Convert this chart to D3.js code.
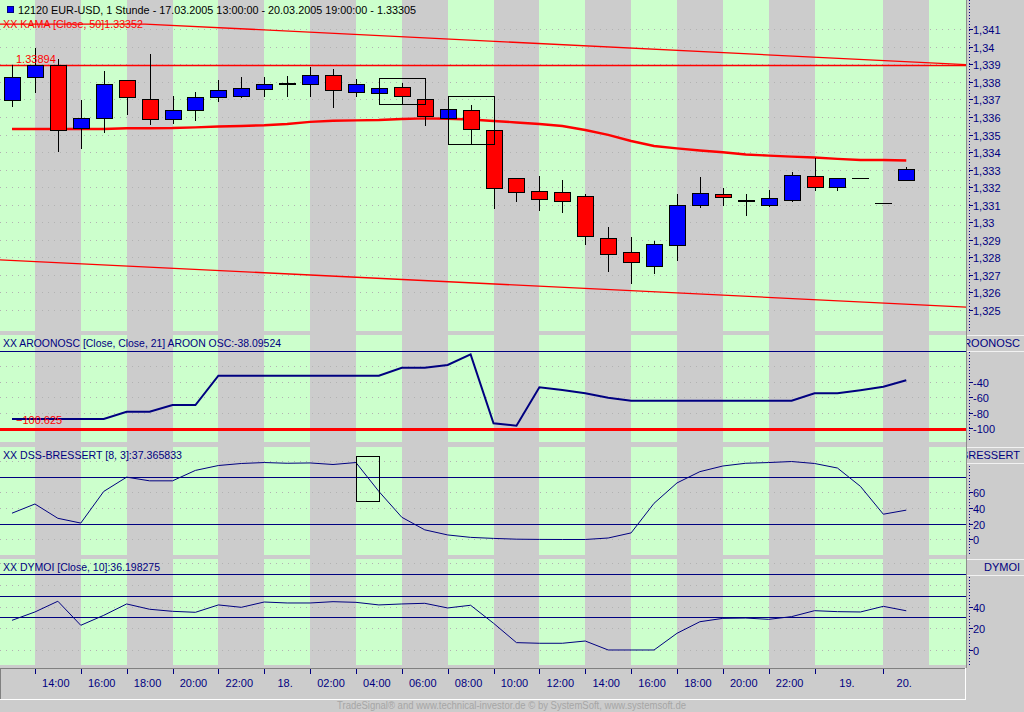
<!DOCTYPE html>
<html>
<head>
<meta charset="utf-8">
<script src="https://cdn.jsdelivr.net/npm/d3@7"></script>
<style>
  body { margin: 0; background: #cccccc; overflow: hidden; }
  text { font-family: "Liberation Sans", Arial, sans-serif; }
</style>
</head>
<body>
<div id="chart"></div>
<script>
// ---- data ----
const barTimes = [
  "17.03 13:00", "17.03 14:00", "17.03 15:00", "17.03 16:00", "17.03 17:00", "17.03 18:00",
  "17.03 19:00", "17.03 20:00", "17.03 21:00", "17.03 22:00", "17.03 23:00",
  "18.03 00:00", "18.03 01:00", "18.03 02:00", "18.03 03:00", "18.03 04:00", "18.03 05:00",
  "18.03 06:00", "18.03 07:00", "18.03 08:00", "18.03 09:00", "18.03 10:00", "18.03 11:00",
  "18.03 12:00", "18.03 13:00", "18.03 14:00", "18.03 15:00", "18.03 16:00", "18.03 17:00",
  "18.03 18:00", "18.03 19:00", "18.03 20:00", "18.03 21:00", "18.03 22:00", "18.03 23:00",
  "19.03 00:00", "19.03 01:00", "19.03 02:00", "20.03 18:00", "20.03 19:00"
];

const opens = [
  1.33695, 1.33826, 1.33895, 1.33537, 1.33596, 1.33809, 1.33701, 1.33587, 1.33638, 1.33712,
  1.33718, 1.33761, 1.33790, 1.33787, 1.33840, 1.33744, 1.33735, 1.33771, 1.33701, 1.33596,
  1.33638, 1.33526, 1.33251, 1.33178, 1.33171, 1.33148, 1.32909, 1.32829, 1.32747, 1.32867,
  1.33095, 1.33161, 1.33123, 1.33095, 1.33129, 1.33262, 1.33197, 1.33251, 1.33108, 1.33243
];
const highs = [
  1.33897, 1.33992, 1.33931, 1.33697, 1.33862, 1.33812, 1.33959, 1.33720, 1.33743, 1.33811,
  1.33830, 1.33830, 1.33834, 1.33887, 1.33872, 1.33817, 1.33766, 1.33794, 1.33701, 1.33648,
  1.33667, 1.33526, 1.33251, 1.33264, 1.33241, 1.33161, 1.32973, 1.32916, 1.32893, 1.33161,
  1.33260, 1.33194, 1.33161, 1.33184, 1.33285, 1.33368, 1.33251, 1.33251, 1.33108, 1.33313
];
const lows = [
  1.33659, 1.33739, 1.33402, 1.33419, 1.33511, 1.33613, 1.33556, 1.33562, 1.33579, 1.33687,
  1.33710, 1.33716, 1.33716, 1.33716, 1.33653, 1.33712, 1.33733, 1.33673, 1.33551, 1.33596,
  1.33445, 1.33076, 1.33117, 1.33066, 1.33055, 1.32871, 1.32718, 1.32650, 1.32707, 1.32781,
  1.33083, 1.33095, 1.33038, 1.33089, 1.33116, 1.33178, 1.33178, 1.33251, 1.33108, 1.33243
];
const closes = [
  1.33826, 1.33894, 1.33524, 1.33593, 1.33787, 1.33712, 1.33587, 1.33638, 1.33712, 1.33752,
  1.33764, 1.33787, 1.33790, 1.33840, 1.33756, 1.33788, 1.33764, 1.33718, 1.33602, 1.33646,
  1.33530, 1.33194, 1.33174, 1.33134, 1.33117, 1.32918, 1.32815, 1.32770, 1.32875, 1.33097,
  1.33165, 1.33146, 1.33123, 1.33137, 1.33270, 1.33197, 1.33251, 1.33251, 1.33108, 1.33305
];

const kama = [
  1.33532, 1.33532, 1.33532, 1.33532, 1.33532, 1.33536, 1.33536, 1.33537, 1.33541, 1.33546,
  1.33549, 1.33553, 1.33560, 1.33572, 1.33579, 1.33581, 1.33583, 1.33589, 1.33592, 1.33590,
  1.33586, 1.33577, 1.33569, 1.33560, 1.33549, 1.33526, 1.33498, 1.33463, 1.33435, 1.33421,
  1.33409, 1.33399, 1.33386, 1.33380, 1.33374, 1.33369, 1.33361, 1.33355, 1.33355, 1.33352
];

// regression channel lines (bar index, price)
const upperChannel = [[-0.6, 1.34130], [5.8, 1.34130], [41.7, 1.33898]];
const lowerChannel = [[-0.6, 1.32786], [41.7, 1.32516]];
const levelPrice = 1.33894;

// pattern boxes (bar index range, price range)
const priceBoxes = [
  { from: 16, to: 18, top: 1.33821, bottom: 1.33673 },
  { from: 19, to: 21, top: 1.33718, bottom: 1.33445 }
];

const aroon = [
  -88, -88, -88, -88, -88, -78.6, -78.6, -70, -70, -32.3,
  -32.3, -32.3, -32.3, -32.3, -32.3, -32.3, -32.3, -22, -22, -18.5,
  -4.8, -93.6, -96.6, -47.2, -50.7, -55, -60.6, -64.5, -64.5, -64.5,
  -64.5, -64.5, -64.5, -64.5, -64.5, -55, -55, -51, -46.5, -38.1
];
const aroonLevel = -100.625;

const dss = [
  33.5, 45.2, 27, 20.9, 61.2, 79.4, 74.7, 74.7, 88, 94.2,
  96.8, 98, 97.1, 97.5, 95.5, 98, 61.2, 28.3, 12.3, 5.8,
  2.7, 1.4, 0.4, 0.1, 0, 0, 1.9, 8.4, 46.1, 72,
  86.4, 93.6, 97.1, 98, 99.3, 96.8, 91, 67.7, 32.2, 37.4
];
const dssBoxes = [{ from: 15, to: 16, top: 106.4, bottom: 48.7 }];

const dymoi = [
  27.4, 35.1, 45, 22.8, 32, 42.5, 37.6, 35.7, 34.8, 41.6,
  39.4, 44.3, 43.4, 43.4, 44.6, 44, 41.6, 42.5, 43.1, 38.8,
  41.3, 24.7, 6.8, 6.2, 6.2, 8.3, 0, 0, 0, 15.4,
  26.1, 29.2, 29.5, 28.3, 30.8, 36.3, 35.4, 35.1, 40.3, 36.2
];

// ticks
const priceTicks = [1.325, 1.326, 1.327, 1.328, 1.329, 1.33, 1.331, 1.332, 1.333,
                    1.334, 1.335, 1.336, 1.337, 1.338, 1.339, 1.34, 1.341];
const aroonGrid = [-20, -40, -60, -80];
const aroonTicks = [-40, -60, -80, -100];
const dssGrid = [0, 20, 40, 60, 80, 100];
const dssTicks = [0, 20, 40, 60];
const dssLevels = [20, 80];
const dymoiGrid = [0, 20, 40, 60, 80];
const dymoiTicks = [0, 20, 40];
const dymoiLevels = [30, 50, 70];

const timeTickIdx = [1, 3, 5, 7, 9, 11, 13, 15, 17, 19, 21, 23, 25, 27, 29, 31, 33, 35, 38];
const timeTickLabels = ["14:00", "16:00", "18:00", "20:00", "22:00", "18.", "02:00", "04:00",
  "06:00", "08:00", "10:00", "12:00", "14:00", "16:00", "18:00", "20:00", "22:00", "19.", "20."];
const stripeEnd = 40;

// ---- layout ----
const width = 1024, height = 712;
const plotRight = 966;
const navy = '#000080';
const green = '#ccffcc', grey = '#cccccc';

const svg = d3.select('#chart').append('svg')
  .attr('width', width).attr('height', height)
  .style('display', 'block');

svg.append('rect').attr('width', width).attr('height', height).attr('fill', grey);

const x = d3.scaleLinear().domain([-0.5233, 41.605]).range([0, plotRight]);

const panels = [
  { id: 'price', top: 0, bottom: 331, y: d3.scaleLinear().domain([1.3238, 1.34267]).range([331, 0]) },
  { id: 'aroon', top: 335, bottom: 442, y: d3.scaleLinear().domain([-117.6, 20.1]).range([442, 335]) },
  { id: 'dss', top: 447, bottom: 555, y: d3.scaleLinear().domain([-19.75, 117.8]).range([555, 447]) },
  { id: 'dymoi', top: 559, bottom: 665, y: d3.scaleLinear().domain([-13.85, 84.0]).range([665, 559]) }
];
const P = {};
panels.forEach(p => { P[p.id] = p; });

// stripe boundaries (bar index) -> alternating green / grey
const bounds = [x.domain()[0], ...timeTickIdx, stripeEnd, x.domain()[1]];
const stripes = d3.pairs(bounds).map((b, k) => ({ x0: x(b[0]), x1: x(b[1]), fill: k % 2 ? grey : green }));

const defs = svg.append('defs');

panels.forEach(p => {
  defs.append('clipPath').attr('id', 'clip-' + p.id)
    .append('rect').attr('x', 0).attr('y', p.top).attr('width', plotRight).attr('height', p.bottom - p.top);

  p.g = svg.append('g').attr('clip-path', `url(#clip-${p.id})`);

  p.g.selectAll('rect.stripe')
    .data(stripes)
    .enter()
    .append('rect')
    .attr('class', 'stripe')
    .attr('x', d => d.x0)
    .attr('width', d => d.x1 - d.x0)
    .attr('y', p.top)
    .attr('height', p.bottom - p.top)
    .attr('fill', d => d.fill)
    .attr('shape-rendering', 'crispEdges');
});

function dottedGrid(p, values) {
  p.g.selectAll(null)
    .data(values)
    .enter()
    .append('line')
    .attr('x1', 0).attr('x2', plotRight)
    .attr('y1', d => Math.round(p.y(d)) + 0.5)
    .attr('y2', d => Math.round(p.y(d)) + 0.5)
    .attr('stroke', '#b2b2b2')
    .attr('stroke-dasharray', '1 5');
}

function hLines(p, values, color, w) {
  p.g.selectAll(null)
    .data(values)
    .enter()
    .append('line')
    .attr('x1', 0).attr('x2', plotRight)
    .attr('y1', d => Math.round(p.y(d)) + 0.5)
    .attr('y2', d => Math.round(p.y(d)) + 0.5)
    .attr('stroke', color)
    .attr('stroke-width', w);
}

function boxes(p, data) {
  p.g.selectAll(null)
    .data(data)
    .enter()
    .append('rect')
    .attr('x', d => Math.round(x(d.from)) + 0.5)
    .attr('width', d => Math.round(x(d.to) - x(d.from)))
    .attr('y', d => Math.round(p.y(d.top)) + 0.5)
    .attr('height', d => Math.round(p.y(d.bottom) - p.y(d.top)))
    .attr('fill', 'none')
    .attr('stroke', '#000')
    .attr('stroke-width', 1);
}

function rightAxis(p, ticks, fmt, axisTop) {
  const g = svg.append('g');
  g.append('line')
    .attr('x1', 969.5).attr('x2', 969.5)
    .attr('y1', axisTop).attr('y2', p.bottom)
    .attr('stroke', navy)
    .attr('stroke-dasharray', '1 2');
  const t = g.selectAll('g')
    .data(ticks)
    .enter()
    .append('g')
    .attr('transform', d => `translate(0,${Math.round(p.y(d)) + 0.5})`);
  t.append('line')
    .attr('x1', 969).attr('x2', 973)
    .attr('stroke', navy);
  t.append('text')
    .attr('x', 973)
    .attr('dy', 4)
    .attr('fill', navy)
    .style('font-size', '11px')
    .text(fmt);
}

function headerCell(p, label) {
  const h = 16;
  defs.append('clipPath').attr('id', 'cell-' + p.id)
    .append('rect').attr('x', 967).attr('y', p.top).attr('width', 57).attr('height', h);
  svg.append('rect')
    .attr('x', 966.5).attr('y', p.top + 0.5)
    .attr('width', 60).attr('height', h)
    .attr('fill', grey)
    .attr('stroke', '#f2f2f2');
  svg.append('text')
    .attr('clip-path', `url(#cell-${p.id})`)
    .attr('x', 1020).attr('y', p.top + 12)
    .attr('text-anchor', 'end')
    .attr('fill', navy)
    .style('font-size', '11px')
    .text(label);
}

function panelTitle(p, label, color, yBase, len) {
  svg.append('text')
    .attr('x', 3).attr('y', yBase)
    .attr('fill', color)
    .attr('textLength', len)
    .attr('lengthAdjust', 'spacingAndGlyphs')
    .style('font-size', '11px')
    .text(label);
}

// ---- price panel ----
const pp = P.price;
dottedGrid(pp, priceTicks);

const lineP = d3.line().x(d => x(d[0])).y(d => pp.y(d[1]));
[upperChannel, lowerChannel].forEach(ch => {
  pp.g.append('path')
    .attr('d', lineP(ch))
    .attr('fill', 'none')
    .attr('stroke', '#ff0000')
    .attr('stroke-width', 1.3);
});
hLines(pp, [levelPrice], '#ff0000', 1.3);

pp.g.append('path')
  .attr('d', d3.line().x((d, i) => x(i)).y(d => pp.y(d))(kama))
  .attr('fill', 'none')
  .attr('stroke', '#ff0000')
  .attr('stroke-width', 2.4);

const candles = barTimes.map((t, i) => ({ t, i, o: opens[i], h: highs[i], l: lows[i], c: closes[i] }));
const isDoji = d => d.o === d.c;

const cg = pp.g.append('g').attr('shape-rendering', 'crispEdges');
cg.selectAll('line.wick')
  .data(candles.filter(d => d.h !== d.l))
  .enter()
  .append('line')
  .attr('class', 'wick')
  .attr('x1', d => Math.round(x(d.i)) + 0.5)
  .attr('x2', d => Math.round(x(d.i)) + 0.5)
  .attr('y1', d => Math.round(pp.y(d.h)))
  .attr('y2', d => Math.round(pp.y(d.l)))
  .attr('stroke', '#000');

cg.selectAll('rect.body')
  .data(candles.filter(d => !isDoji(d)))
  .enter()
  .append('rect')
  .attr('class', 'body')
  .attr('x', d => Math.round(x(d.i)) - 7.5)
  .attr('width', 16)
  .attr('y', d => Math.round(pp.y(Math.max(d.o, d.c))) + 0.5)
  .attr('height', d => Math.max(1, Math.round(Math.abs(pp.y(d.o) - pp.y(d.c)))))
  .attr('fill', d => d.c > d.o ? '#0000ff' : '#ff0000')
  .attr('stroke', '#000');

// open == close: a flat black dash
cg.selectAll('line.doji')
  .data(candles.filter(isDoji))
  .enter()
  .append('line')
  .attr('class', 'doji')
  .attr('x1', d => Math.round(x(d.i)) - 8)
  .attr('x2', d => Math.round(x(d.i)) + 9)
  .attr('y1', d => Math.round(pp.y(d.c)) + (d.h !== d.l ? 0 : 0.5))
  .attr('y2', d => Math.round(pp.y(d.c)) + (d.h !== d.l ? 0 : 0.5))
  .attr('stroke', '#000')
  .attr('stroke-width', d => d.h !== d.l ? 2 : 1);

boxes(pp, priceBoxes);

// price header texts
svg.append('rect').attr('x', 7).attr('y', 6).attr('width', 6).attr('height', 6)
  .attr('fill', '#0000ff').attr('stroke', navy).attr('shape-rendering', 'crispEdges');
svg.append('text')
  .attr('x', 18).attr('y', 14)
  .attr('fill', '#000')
  .attr('textLength', 398)
  .attr('lengthAdjust', 'spacingAndGlyphs')
  .style('font-size', '11px')
  .text('12120  EUR-USD, 1 Stunde - 17.03.2005 13:00:00 - 20.03.2005 19:00:00 - 1.33305');
panelTitle(pp, 'XX KAMA [Close, 50]1.33352', '#ff0000', 28, 140);
svg.append('text')
  .attr('x', 16).attr('y', Math.round(pp.y(levelPrice)) - 2)
  .attr('fill', '#ff0000')
  .style('font-size', '11px')
  .text(d3.format('.5f')(levelPrice));

rightAxis(pp, priceTicks, d => String(+d.toFixed(3)).replace('.', ','), 0);

// ---- aroon panel ----
const pa = P.aroon;
dottedGrid(pa, aroonGrid);
hLines(pa, [0], navy, 1);
hLines(pa, [aroonLevel], '#ff0000', 3);
pa.g.append('path')
  .attr('d', d3.line().x((d, i) => x(i)).y(d => pa.y(d))(aroon))
  .attr('fill', 'none')
  .attr('stroke', navy)
  .attr('stroke-width', 2);
svg.append('text')
  .attr('x', 16).attr('y', 424)
  .attr('fill', '#ff0000')
  .style('font-size', '11px')
  .text(d3.format('.3f')(aroonLevel));
panelTitle(pa, 'XX AROONOSC [Close, Close, 21] AROON OSC:-38.09524', navy, 347, 278);
headerCell(pa, 'AROONOSC');
rightAxis(pa, aroonTicks, d => d, 352);

// ---- DSS panel ----
const pd = P.dss;
dottedGrid(pd, dssGrid);
hLines(pd, dssLevels, navy, 1);
pd.g.append('path')
  .attr('d', d3.line().x((d, i) => x(i)).y(d => pd.y(d))(dss))
  .attr('fill', 'none')
  .attr('stroke', navy)
  .attr('stroke-width', 1);
boxes(pd, dssBoxes);
panelTitle(pd, 'XX DSS-BRESSERT [8, 3]:37.365833', navy, 459, 179);
headerCell(pd, 'DSS-BRESSERT');
rightAxis(pd, dssTicks, d => d, 466);

// ---- DYMOI panel ----
const pm = P.dymoi;
dottedGrid(pm, dymoiGrid);
hLines(pm, dymoiLevels, navy, 1);
pm.g.append('path')
  .attr('d', d3.line().x((d, i) => x(i)).y(d => pm.y(d))(dymoi))
  .attr('fill', 'none')
  .attr('stroke', navy)
  .attr('stroke-width', 1);
panelTitle(pm, 'XX DYMOI [Close, 10]:36.198275', navy, 571, 157);
headerCell(pm, 'DYMOI');
rightAxis(pm, dymoiTicks, d => d, 577);

// right column divider
svg.append('line').attr('x1', 966.5).attr('x2', 966.5).attr('y1', 0).attr('y2', 668)
  .attr('stroke', '#8c8c8c');

// ---- time axis ----
const ax = svg.append('g').attr('shape-rendering', 'crispEdges');
ax.append('line').attr('x1', 0).attr('x2', 965).attr('y1', 668.5).attr('y2', 668.5).attr('stroke', '#808080');
ax.append('line').attr('x1', 0.5).attr('x2', 0.5).attr('y1', 668).attr('y2', 699).attr('stroke', '#808080');
ax.append('line').attr('x1', 0).attr('x2', 966).attr('y1', 699.5).attr('y2', 699.5).attr('stroke', '#ffffff');
ax.append('line').attr('x1', 965.5).attr('x2', 965.5).attr('y1', 668).attr('y2', 700).attr('stroke', '#ffffff');

const tickBounds = [...timeTickIdx, stripeEnd];
ax.selectAll('line.tick')
  .data(timeTickIdx)
  .enter()
  .append('line')
  .attr('class', 'tick')
  .attr('x1', d => Math.round(x(d)) + 0.5)
  .attr('x2', d => Math.round(x(d)) + 0.5)
  .attr('y1', 669).attr('y2', 674)
  .attr('stroke', navy);

svg.selectAll('text.tlabel')
  .data(timeTickLabels)
  .enter()
  .append('text')
  .attr('class', 'tlabel')
  .attr('x', (d, k) => x((tickBounds[k] + tickBounds[k + 1]) / 2) - 2)
  .attr('y', 687)
  .attr('text-anchor', 'middle')
  .attr('fill', navy)
  .style('font-size', '11px')
  .text(d => d);

// footer
svg.append('text')
  .attr('x', 337).attr('y', 709)
  .attr('fill', '#a6a6a6')
  .attr('textLength', 349)
  .attr('lengthAdjust', 'spacingAndGlyphs')
  .style('font-size', '10px')
  .text('TradeSignal\u00AE and www.technical-investor.de \u00A9 by  SystemSoft, www.systemsoft.de');
</script>
</body>
</html>
